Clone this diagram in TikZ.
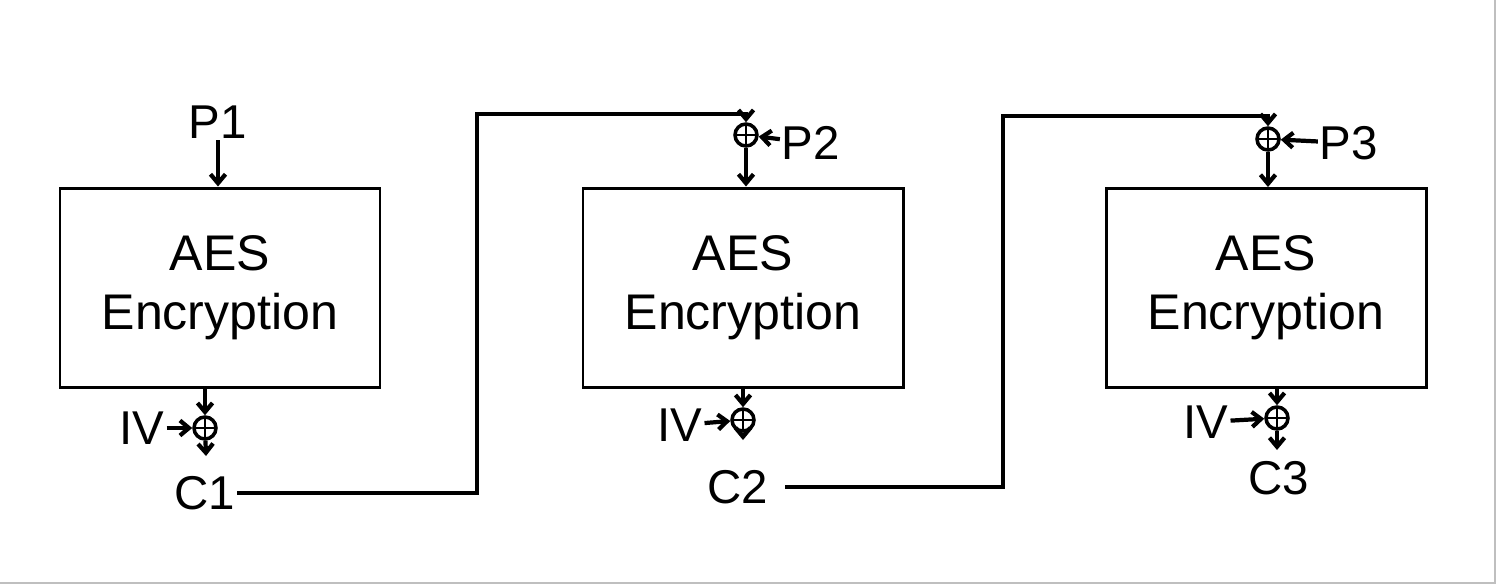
\documentclass[tikz,border=0pt]{standalone}
\usepackage{fontspec}
\setmainfont{Liberation Sans}
\usetikzlibrary{arrows.meta}
\tikzset{
    encbox/.style={draw, line width=1.7pt, minimum width=6.4cm, minimum height=3.98cm,
        align=center, font=\fontsize{28.5}{33.5}\selectfont},
    lbl/.style={font=\fontsize{27}{30}\selectfont, inner sep=1pt},
    xorsym/.style={circle, draw, line width=2pt, minimum size=0.44cm, inner sep=0pt,
        path picture={\draw[line width=1.4pt] (path picture bounding box.north) -- (path picture bounding box.south)
            (path picture bounding box.west) -- (path picture bounding box.east);}},
    wire/.style={line width=2.4pt}
}
\begin{document}
\begin{tikzpicture}[>={Straight Barb[length=0.18cm, width=0.3cm]}]
    \useasboundingbox (0, 0) rectangle (29.92, -11.68);
    \draw[black!25!white, line width=1pt] (29.9, 0) to (29.9, -11.66) to (0, -11.66);
    % three encryption blocks
    \node[encbox] (aes1) at (4.4, -5.75) {AES\\Encryption};
    \node[encbox] (aes2) at (14.86, -5.75) {AES\\Encryption};
    \node[encbox] (aes3) at (25.32, -5.76) {AES\\Encryption};
    % inputs
    \node[lbl] (p1) at (4.36, -2.44) {P1};
    \node[lbl] (p2) at (16.22, -2.86) {P2};
    \node[lbl] (p3) at (26.98, -2.86) {P3};
    \node[xorsym] (xin2) at (14.92, -2.7) {};
    \node[xorsym] (xin3) at (25.36, -2.78) {};
    % outputs
    \node[xorsym] (xout1) at (4.1, -8.56) {};
    \node[xorsym] (xout2) at (14.86, -8.4) {};
    \node[xorsym] (xout3) at (25.54, -8.36) {};
    \node[lbl] (iv1) at (2.84, -8.56) {IV};
    \node[lbl] (iv2) at (13.6, -8.5) {IV};
    \node[lbl] (iv3) at (24.12, -8.44) {IV};
    \node[lbl] (c1) at (4.1, -9.86) {C1};
    \node[lbl] (c2) at (14.76, -9.74) {C2};
    \node[lbl] (c3) at (25.58, -9.56) {C3};
    \coordinate (out1) at (4.12, -9.12);
    \coordinate (out2) at (14.86, -8.8);
    \coordinate (out3) at (25.54, -9.0);
    % block 1
    \draw[wire, ->] (p1) to (aes1.north -| p1.south);
    \draw[wire, ->] (aes1.south -| xout1) to (xout1);
    \draw[wire, ->] (iv1) to (xout1);
    \draw[wire, ->] (xout1) to (out1);
    % chaining into block 2
    \draw[wire, ->] (c1.east) -| (9.54, -2.28) -| (xin2.north);
    \draw[wire, ->] (p2) to (xin2);
    \draw[wire, ->] (xin2) to (aes2.north -| xin2);
    \draw[wire, ->] (aes2.south -| xout2) to (xout2);
    \draw[wire, ->] (iv2) to (xout2);
    \draw[wire, ->] (xout2) to (out2);
    % chaining into block 3
    \draw[wire, ->] ([xshift=0.3cm]c2.east) -| (20.06, -2.32) -| (xin3.north);
    \draw[wire, ->] (p3) to (xin3);
    \draw[wire, ->] (xin3) to (aes3.north -| xin3);
    \draw[wire, ->] (aes3.south -| xout3) to (xout3);
    \draw[wire, ->] (iv3) to (xout3);
    \draw[wire, ->] (xout3) to (out3);
\end{tikzpicture}
\end{document}
